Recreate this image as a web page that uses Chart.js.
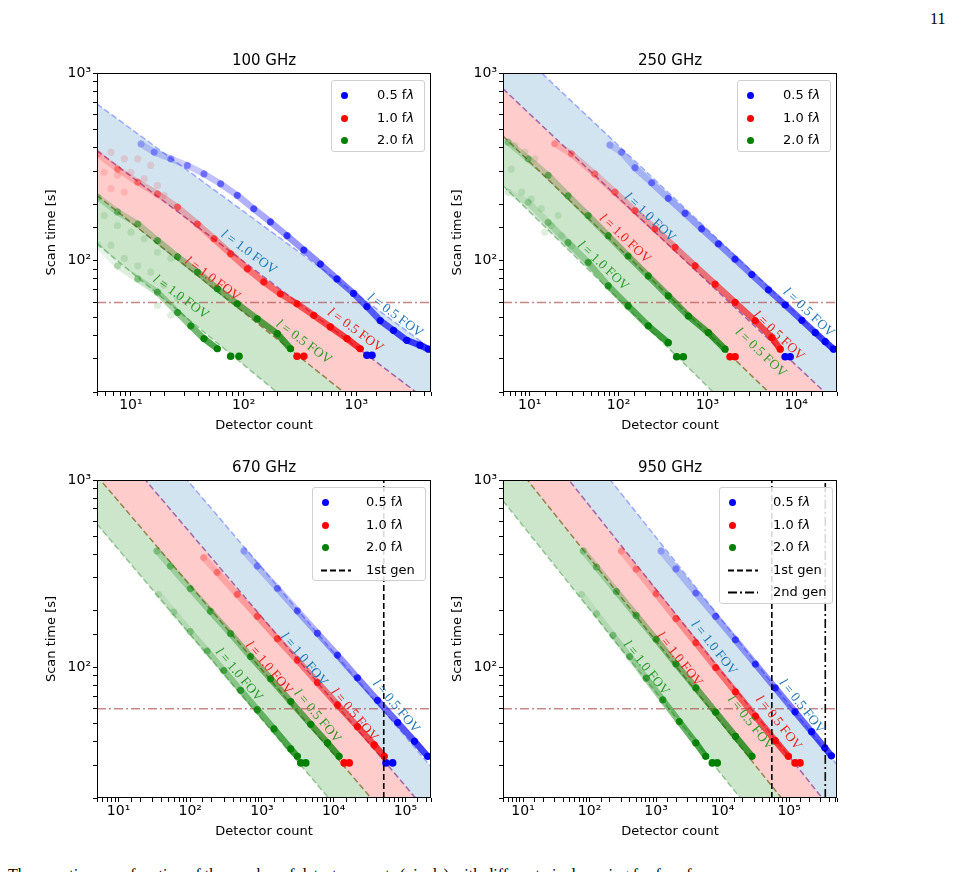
<!DOCTYPE html>
<html><head><meta charset="utf-8">
<script src="https://cdn.jsdelivr.net/npm/chart.js@4"></script>
<style>
body{margin:0;background:#fff;width:954px;height:872px;position:relative;overflow:hidden;font-family:"DejaVu Sans",sans-serif;}
.c{position:absolute;}
.t{position:absolute;font-size:15px;text-align:center;width:334px;}
.lg{position:absolute;background:rgba(255,255,255,0.85);border:1px solid #d0d0d0;border-radius:3px;font-size:13px;}
.row{position:absolute;left:0;height:20px;line-height:20px;}
.dot{position:absolute;width:7px;height:7px;border-radius:50%;top:7px;}
</style></head><body>
<div style="position:absolute;left:930px;top:10px;font-family:'Liberation Serif',serif;font-size:16px;color:#000;">11</div>
<div style="position:absolute;left:8px;top:866px;font-family:'Liberation Serif',serif;font-size:16px;white-space:nowrap;">The scan time as a function of the number of detector counts (pixels) with different pixel spacing for four frequency</div>
<script>
// ---------- data ----------
const titles = ['100 GHz','250 GHz','670 GHz','950 GHz'];
const xRange100=[5,4600], xRange250=[5,28800], xRange670=[5,228000], xRange950=[5,525000];
const yRange=[20,1000];
const bandLeft100=[684,386,223,123],  bandRight100=[34,17.4,8.5,4.2];
const bandLeft250=[1563,824,461,251], bandRight250=[32.8,17.3,8.9,4.5];
const bandLeft670=[3683,2014,1050,581], bandRight670=[29.4,16.0,8.4,4.5];
const bandLeft950=[5260,2770,1455,774], bandRight950=[30.1,15.9,8.5,4.5];
const scanLimit=60;
const gen1_670=50000, gen1_950=55000, gen2_950=350000;

const blue100=[[12.3,419],[16.1,379],[22.6,349],[31.7,322],[44.5,290],[62.5,257],[87.9,223],[123,189],[173,161],[243,136],[342,114],[480,96],[674,80],[946,67],[1242,57],[1630,48],[2138,42.6],[2806,37.7],[3680,35.5],[4365,33.8]];
const blueFloor100=[[1242,31.4],[1377,31.4]];
const red100=[[5.07,371],[7.6,308],[11.5,262],[17.2,227],[25.9,193],[38.9,157],[54.6,131],[76.7,109],[108,90.6],[151,77.1],[212,66.7],[298,59],[419,51.2],[589,44.4],[826,38.5],[1084,34]];
const redFloor100=[[298,31],[342,31]];
const redCloud100=[[6.65,378],[8.73,349],[11.5,349],[15,322],[5.8,296],[7.6,285],[10,296],[13.1,273],[17.2,252],[19.7,223],[6.65,242],[8.73,232]];
const green100=[[5.07,218],[7.6,182],[11.5,157],[17.2,128],[25.9,105],[38.9,87],[58.5,71],[87.9,59],[132,49.1],[199,40.9],[261,34]];
const greenLow100=[[5.07,121],[7.6,94],[11.5,80],[17.2,68],[25.9,53],[34,45],[44.5,38.5],[58.5,34]];
const greenFloor100=[[76.7,31],[91,31]];
const greenCloud100=[[5.8,174],[7.6,154],[10,142],[13.1,131],[17.2,111],[22.6,103],[6.65,121],[8.73,103],[11.5,94],[15,87],[19.7,74],[25.9,62.8],[17.2,57.8],[22.6,51.2]];

const blue250=[[79.8,414],[108,378],[153,313],[236,260],[363,215],[560,179],[863,148],[1330,123],[2050,102],[3160,84.5],[4870,70],[7510,58.2],[11600,48.2],[16400,41.4],[21200,37.1],[26400,33.8]];
const blueFloor250=[[7510,30.8],[8550,30.8]];
const red250=[[19.1,420],[29.5,371],[54,290],[91,232],[153,185],[257,148],[432,118],[726,94],[1220,75],[2050,60],[3450,47.9],[5320,39],[6610,33.8]];
const redFloor250=[[1800,30.8],[2050,30.8]];
const redCloud250=[];
const green250=[[5.7,428],[9.6,349],[16.1,285],[27,222],[45.5,174],[76.4,136],[128,106],[216,83],[363,65],[611,50.8],[1026,41.4],[1580,33.8]];
const greenLow250=[[5.7,232],[9.6,205],[16.1,160],[27,125],[45.5,98],[76.4,73.6],[128,57.5],[216,45],[363,36.6]];
const greenFloor250=[[451,30.8],[536,30.8]];
const greenCloud250=[[6.8,411],[8.8,379],[11.4,349],[6.2,308],[8.1,232],[10.4,213],[13.5,189],[17.5,154],[22.7,136],[29.5,120],[14.8,142],[20.9,174]];

const blue670=[[560,418],[861,347],[1640,264],[3120,200],[5940,152],[11300,116],[21500,87.7],[41000,66.5],[78200,50.6],[134000,40.2],[205000,33.4]];
const blueFloor670=[[53700,30.8],[66500,30.8]];
const red670=[[154,385],[237,321],[452,245],[861,187],[1640,142],[3120,109],[5940,82.8],[11300,63],[21500,48.1],[36800,38.4],[50800,33.4]];
const redFloor670=[[14000,30.8],[16500,30.8]];
const green670=[[34.4,418],[52.8,347],[100,263],[191,199],[365,151],[693,114],[1320,86.7],[2520,65.5],[4800,49.5],[8200,39.4],[11900,33.4]];
const greenLow670=[[36.2,245],[58.8,197],[100,155],[172,122],[294,96],[503,75.3],[861,59.3],[1470,46.8],[2520,36.6],[3120,33.4]];
const greenFloor670=[[3480,30.8],[4080,30.8]];

const blue950=[[1190,418],[1990,335],[3960,249],[7870,187],[15600,140],[31100,104],[61800,77.5],[123000,57.7],[218000,45.2],[344000,37.1],[433000,33.6]];
const blueFloor950=[];
const red950=[[301,418],[502,334],[1000,247],[1990,182],[3960,135],[7870,99.6],[15600,73.8],[31100,54.7],[61800,40.5],[97700,33.4]];
const redFloor950=[[123000,30.8],[146000,30.8]];
const green950=[[80.4,418],[127,343],[253,254],[502,189],[1000,141],[1990,104],[3960,77.5],[7870,57.4],[15600,42.7],[27700,33.4]];
const greenLow950=[[76,245],[127,193],[225,148],[400,114],[710,87.3],[1260,66.8],[2230,51.2],[3960,39.4],[5570,33.4]];
const greenFloor950=[[7010,30.8],[8320,30.8]];

// labels: x, y, FOV text, colour key
const labels100=[[111,111,'1.0','b'],[2210,51.2,'0.5','b'],[52.8,80,'1.0','r'],[980,42.6,'0.5','r'],[27.7,64,'1.0','g'],[342,36.9,'0.5','g']];
const labels250=[[225,170,'1.0','b'],[13800,53,'0.5','b'],[118,131,'1.0','r'],[6330,39.8,'0.5','r'],[67,94,'1.0','g'],[4000,32.4,'0.5','g']];
const labels670=[[3860,110,'1.0','b'],[74100,61.8,'0.5','b'],[1250,99,'1.0','r'],[19400,55.7,'0.5','r'],[477,91,'1.0','g'],[5940,54.7,'0.5','g']];
const labels950=[[7430,127,'1.0','b'],[155000,61.8,'0.5','b'],[2230,110,'1.0','r'],[69300,50.4,'0.5','r'],[710,99,'1.0','g'],[26200,50.4,'0.5','g']];

// ---------- styles ----------
const RGB={b:[0,0,255],r:[255,0,0],g:[0,128,0]};
const LBLC={b:'#1f77b4',r:'#e8211b',g:'#2a9a2a'};
const bandFill=['rgba(31,119,180,0.2)','rgba(255,0,0,0.2)','rgba(0,128,0,0.2)'];
const bandLine=['rgba(90,110,255,0.55)','rgba(140,60,150,0.75)','rgba(120,90,20,0.7)','rgba(60,150,60,0.5)'];
const sup={0:'⁰',1:'¹',2:'²',3:'³',4:'⁴',5:'⁵',6:'⁶'};
const pts=a=>a.map(p=>({x:p[0],y:p[1]}));

function dots(arr,key,lo){
  const [r,g,b]=RGB[key]; const n=arr.length;
  const al=i=>lo+(1-lo)*Math.pow(i/Math.max(1,n-1),1.4);
  return {data:pts(arr),showLine:true,borderWidth:6.5,order:1,
    segment:{borderColor:c=>`rgba(${r},${g},${b},${al(c.p0DataIndex)*0.85})`},
    borderColor:`rgba(${r},${g},${b},0.8)`,borderCapStyle:'round',
    pointRadius:3.6,pointBorderWidth:0,
    pointBackgroundColor:c=>`rgba(${r},${g},${b},${al(c.dataIndex)})`};
}
function floorDs(arr,key){const [r,g,b]=RGB[key];return {data:pts(arr),showLine:false,pointRadius:3.8,pointBorderWidth:0,borderWidth:6,order:1,pointBackgroundColor:`rgb(${r},${g},${b})`};}
function cloudDs(arr,key){const [r,g,b]=RGB[key];return {data:pts(arr),showLine:false,pointRadius:3.6,pointBorderWidth:0,order:2,pointBackgroundColor:`rgba(${r},${g},${b},0.13)`};}

const framePlugin={id:'frame',afterDatasetsDraw(ch){
  const c=ch.ctx,ar=ch.chartArea,xs=ch.scales.x,ys=ch.scales.y;
  const L=ch.options.plugins.frame.labels, band=ch.options.plugins.frame.band, xr=ch.options.plugins.frame.xr;
  const ang=Math.atan2(ys.getPixelForValue(band[1])-ys.getPixelForValue(band[0]),xs.getPixelForValue(xr[1])-xs.getPixelForValue(xr[0]));
  c.save();c.beginPath();c.rect(ar.left,ar.top,ar.right-ar.left,ar.bottom-ar.top);c.clip();
  L.forEach(l=>{
    const px=xs.getPixelForValue(l[0]),py=ys.getPixelForValue(l[1]);
    c.save();c.translate(px,py);c.rotate(ang);c.fillStyle=LBLC[l[3]];c.textBaseline='middle';
    c.font='italic 13.5px "Liberation Serif"';const w1=c.measureText('l').width;
    c.font='13.5px "Liberation Serif"';const rest=' = '+l[2]+' FOV';const w2=c.measureText(rest).width;
    const x0=-(w1+w2)/2;
    c.font='italic 13.5px "Liberation Serif"';c.fillText('l',x0,0);
    c.font='13.5px "Liberation Serif"';c.fillText(rest,x0+w1,0);
    c.restore();
  });
  c.restore();
  c.save();c.strokeStyle='#000';c.lineWidth=1;c.strokeRect(ar.left+0.5,ar.top+0.5,ar.right-ar.left-1,ar.bottom-ar.top-1);c.restore();
}};

function makeChart(idx,left,top,h,xr,bl,br,B,BF,R,RF,RC,G,GL,GF,GC,labels,gens){
  const cv=document.createElement('canvas');cv.width=400;cv.height=h;cv.className='c';
  cv.style.left=left+'px';cv.style.top=top+'px';cv.style.width='400px';cv.style.height=h+'px';
  document.body.appendChild(cv);
  const t=document.createElement('div');t.className='t';t.textContent=titles[idx];
  t.style.left=(left+57)+'px';t.style.top=(top+6)+'px';document.body.appendChild(t);
  const ds=[];
  for(let k=0;k<4;k++){
    ds.push({data:[{x:xr[0],y:bl[k]},{x:xr[1],y:br[k]}],showLine:true,pointRadius:0,borderWidth:1.5,borderDash:[6,3],
      borderColor:bandLine[k],fill:k===0?false:'-1',backgroundColor:k===0?'transparent':bandFill[k-1],order:10});
  }
  ds.push({data:[{x:xr[0],y:scanLimit},{x:xr[1],y:scanLimit}],showLine:true,pointRadius:0,borderWidth:1.5,borderDash:[9,3,2,3],borderColor:'rgba(170,70,70,0.65)',order:5});
  ds.push(cloudDs(GC,'g'),cloudDs(RC,'r'));
  ds.push(dots(GL,'g',0.1),dots(G,'g',0.25),floorDs(GF,'g'),dots(R,'r',0.2),floorDs(RF,'r'),dots(B,'b',0.2),floorDs(BF,'b'));
  gens.forEach(g=>ds.push({data:[{x:g[0],y:yRange[0]},{x:g[0],y:yRange[1]}],showLine:true,pointRadius:0,borderWidth:1.6,borderColor:'#000',borderDash:g[1],order:0}));
  const tickCb=v=>{const e=Math.log10(v);return Math.abs(e-Math.round(e))<1e-9?'10'+sup[Math.round(e)]:'';};
  new Chart(cv,{type:'scatter',data:{datasets:ds},plugins:[framePlugin],
    options:{responsive:false,animation:false,devicePixelRatio:1,
      layout:{padding:{top:28,right:9,left:0,bottom:8}},
      plugins:{legend:{display:false},tooltip:{enabled:false},frame:{labels:labels,band:[bl[0],br[0]],xr:xr}},
      scales:{
        x:{type:'logarithmic',min:xr[0],max:xr[1],afterFit:s=>{s.height=45;},
          grid:{drawOnChartArea:false,tickLength:4,color:'#000'},border:{display:false},
          ticks:{autoSkip:false,maxRotation:0,color:'#000',font:{size:14,family:'DejaVu Sans'},callback:tickCb,padding:1},
          title:{display:true,text:'Detector count',color:'#000',font:{size:13,family:'DejaVu Sans'},padding:{top:0}}},
        y:{type:'logarithmic',min:yRange[0],max:yRange[1],afterFit:s=>{s.width=57;},
          grid:{drawOnChartArea:false,tickLength:4,color:'#000'},border:{display:false},
          ticks:{autoSkip:false,color:'#000',font:{size:14,family:'DejaVu Sans'},callback:tickCb,padding:2},
          title:{display:true,text:'Scan time [s]',color:'#000',font:{size:13,family:'DejaVu Sans'},padding:{bottom:2}}}
      }}});
}
makeChart(0,40,45,400,xRange100,bandLeft100,bandRight100,blue100,blueFloor100,red100,redFloor100,redCloud100,green100,greenLow100,greenFloor100,greenCloud100,labels100,[]);
makeChart(1,446,45,400,xRange250,bandLeft250,bandRight250,blue250,blueFloor250,red250,redFloor250,redCloud250,green250,greenLow250,greenFloor250,greenCloud250,labels250,[]);
makeChart(2,40,452,399,xRange670,bandLeft670,bandRight670,blue670,blueFloor670,red670,redFloor670,[],green670,greenLow670,greenFloor670,[],labels670,[[gen1_670,[6,3]]]);
makeChart(3,446,452,399,xRange950,bandLeft950,bandRight950,blue950,blueFloor950,red950,redFloor950,[],green950,greenLow950,greenFloor950,[],labels950,[[gen1_950,[6,3]],[gen2_950,[9,3,2,3]]]);

// legends
function legend(left,top,w,rows){
  const d=document.createElement('div');d.className='lg';d.style.left=left+'px';d.style.top=top+'px';d.style.width=w+'px';d.style.height=(rows.length*22.5+2)+'px';
  rows.forEach((r,i)=>{
    const row=document.createElement('div');row.className='row';row.style.top=(4+i*22.5)+'px';row.style.width=w+'px';
    let mk;
    if(r[0]==='dot'){mk=`<span class="dot" style="left:9px;background:${r[1]}"></span>`;}
    else{mk=`<svg style="position:absolute;left:8px;top:9px" width="30" height="3"><line x1="0" y1="1.5" x2="30" y2="1.5" stroke="#000" stroke-width="1.8" stroke-dasharray="${r[1]}"/></svg>`;}
    row.innerHTML=mk+`<span style="position:absolute;left:${r[3]}px">${r[2]}</span>`;
    d.appendChild(row);
  });
  document.body.appendChild(d);
}
const fl=['0.5 f<i>λ</i>','1.0 f<i>λ</i>','2.0 f<i>λ</i>'];
legend(331,80,92,[['dot','#00f',fl[0],45],['dot','#f00',fl[1],45],['dot','#008000',fl[2],45]]);
legend(737,80,92,[['dot','#00f',fl[0],45],['dot','#f00',fl[1],45],['dot','#008000',fl[2],45]]);
legend(312,487,112,[['dot','#00f',fl[0],53],['dot','#f00',fl[1],53],['dot','#008000',fl[2],53],['ln','6,3','1st gen',53]]);
legend(719,487,112,[['dot','#00f',fl[0],53],['dot','#f00',fl[1],53],['dot','#008000',fl[2],53],['ln','6,3','1st gen',53],['ln','9,3,2,3','2nd gen',53]]);
</script>
</body></html>
